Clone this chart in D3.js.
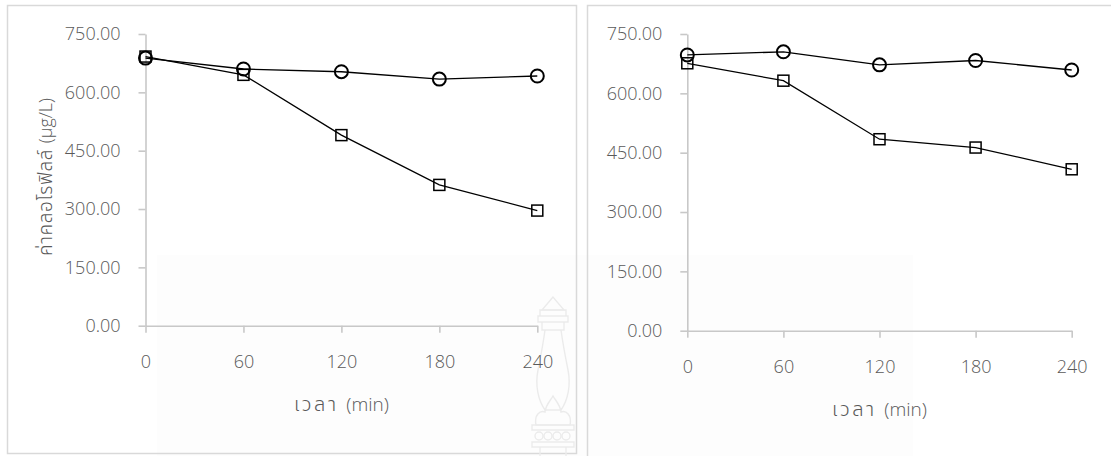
<!DOCTYPE html>
<html>
<head>
<meta charset="utf-8">
<script src="https://cdn.jsdelivr.net/npm/d3@7"></script>
<style>
  html, body { margin: 0; padding: 0; background: #fff; }
  svg { display: block; }
  .lbl { font-family: "Open Sans", "Noto Sans", sans-serif; font-weight: 300; fill: #595959; }
  .ttl { fill: #595959; }
  .th { font-family: "Noto Sans Thai", "Noto Sans", sans-serif; font-weight: 300; }
  .la { font-family: "Open Sans", "Noto Sans", sans-serif; font-weight: 300; }
</style>
</head>
<body>
<svg id="chart" width="1111" height="456"></svg>
<script>
// Sampling times (min) and value axis ticks
const times = [0, 60, 120, 180, 240];
const yTicks = [0, 150, 300, 450, 600, 750];

// Chlorophyll (µg/L), left panel
const leftCircle = [688, 660, 653, 634, 642];
const leftSquare = [692, 645, 490, 362, 296];

// Chlorophyll (µg/L), right panel
const rightCircle = [697, 705, 672, 683, 659];
const rightSquare = [676, 632, 484, 463, 408];

// axis titles, split into Thai and Latin runs
const xTitleParts = [["th", "เวลา "], ["la", "(min)"]];
const yTitleParts = [["th", "ค่าคลอโรฟิลล์ "], ["la", "(µg/L)"]];

const svg = d3.select("#chart");
svg.append("rect").attr("width", 1111).attr("height", 456).attr("fill", "#fff");

// faint backdrop band
svg.append("rect").attr("x", 157).attr("y", 255).attr("width", 756).attr("height", 201).attr("fill", "#fdfdfd");

// panel frames
svg.append("rect").attr("x", 7.5).attr("y", 5.5).attr("width", 569).attr("height", 448)
  .attr("fill", "none").attr("stroke", "#d9d9d9").attr("stroke-width", 1.5);
svg.append("rect").attr("x", 587.5).attr("y", 5.5).attr("width", 540).attr("height", 470)
  .attr("fill", "none").attr("stroke", "#d9d9d9").attr("stroke-width", 1.5);

// emblem mark near the bottom right of the left panel
const wm = svg.append("g").attr("fill", "none").attr("stroke", "#ebebeb").attr("stroke-width", 1.4);
wm.append("path").attr("d", "M553,297 L542,310 L564,310 Z");
wm.append("path").attr("d", "M540,310 L566,310 L566,316 L540,316 Z M538,316 L568,316 L568,322 L538,322 Z M542,322 L564,322 L564,330 L542,330 Z");
wm.append("path").attr("d", "M545,330 C543,345 541,355 538,370 C535,385 538,400 545,410 L561,410 C568,400 571,385 568,370 C565,355 563,345 561,330");
wm.append("path").attr("d", "M536,425 C534,415 540,410 545,412 C546,404 551,400 553,396 C555,400 560,404 561,412 C566,410 572,415 570,425 Z");
wm.append("path").attr("d", "M532,425 L574,425 L574,430 L532,430 Z");
[538, 547, 556, 565].forEach(cx => wm.append("circle").attr("cx", cx + 1).attr("cy", 436).attr("r", 4));
wm.append("path").attr("d", "M532,442 L574,442 L574,447 L532,447 Z M540,447 L540,456 M566,447 L566,456");

function addTitle(sel, parts, thSize, laSize, thSpacing) {
  sel.selectAll("tspan").data(parts).enter().append("tspan")
    .attr("class", d => d[0]).text(d => d[1])
    .style("font-size", d => d[0] === "th" ? thSize : laSize)
    .style("letter-spacing", d => d[0] === "th" ? thSpacing : "0px");
}

function drawPanel(cfg) {
  const x = d3.scaleLinear().domain([0, 240]).range(cfg.xr);
  const y = d3.scaleLinear().domain([0, 750]).range(cfg.yr);
  const g = svg.append("g");

  const xAxis = g.append("g").attr("transform", `translate(0,${cfg.yr[0]})`)
    .call(d3.axisBottom(x).tickValues(times).tickSize(7).tickSizeOuter(0).tickPadding(23));
  const yAxis = g.append("g").attr("transform", `translate(${cfg.xr[0]},0)`)
    .call(d3.axisLeft(y).tickValues(yTicks).tickSize(7).tickSizeOuter(0).tickPadding(18).tickFormat(d3.format(".2f")));
  [xAxis, yAxis].forEach(a => {
    a.attr("font-family", null).attr("font-size", null);
    a.select(".domain").attr("stroke", "#c8c8c8").attr("stroke-width", 1.6);
    a.selectAll(".tick line").attr("stroke", "#c8c8c8").attr("stroke-width", 1.6);
    a.selectAll(".tick text").attr("class", "lbl").style("font-size", "18px");
  });

  g.append("text").attr("class", "ttl").attr("text-anchor", "middle")
    .attr("x", (cfg.xr[0] + cfg.xr[1]) / 2).attr("y", cfg.xTitleY).attr("dy", "0.35em")
    .call(addTitle, xTitleParts, "20px", "19px", "2.5px");

  if (cfg.showY) {
    g.append("text").attr("class", "ttl").attr("text-anchor", "middle")
      .attr("transform", `translate(46,177) rotate(-90)`)
      .attr("dy", "0.35em").call(addTitle, yTitleParts, "19px", "18px", "0.6px");
  }

  const line = d3.line().x((d, i) => x(times[i])).y(d => y(d));
  [cfg.square, cfg.circle].forEach(s => {
    g.append("path").datum(s).attr("d", line).attr("fill", "none")
      .attr("stroke", "#000").attr("stroke-width", 1.3);
  });
  g.selectAll(".sq").data(cfg.square).enter().append("rect")
    .attr("x", (d, i) => x(times[i]) - 5.5).attr("y", d => y(d) - 5.5)
    .attr("width", 11).attr("height", 11)
    .attr("fill", "none").attr("stroke", "#000").attr("stroke-width", 1.5);
  g.selectAll(".ci").data(cfg.circle).enter().append("circle")
    .attr("cx", (d, i) => x(times[i])).attr("cy", d => y(d)).attr("r", 6.5)
    .attr("fill", "none").attr("stroke", "#000").attr("stroke-width", 2);
}

drawPanel({ xr: [145.5, 537.3], yr: [325.7, 34], xTitleY: 405, showY: true,
  circle: leftCircle, square: leftSquare });
drawPanel({ xr: [687.3, 1071.7], yr: [330.7, 34], xTitleY: 410, showY: false,
  circle: rightCircle, square: rightSquare });
</script>
</body>
</html>
